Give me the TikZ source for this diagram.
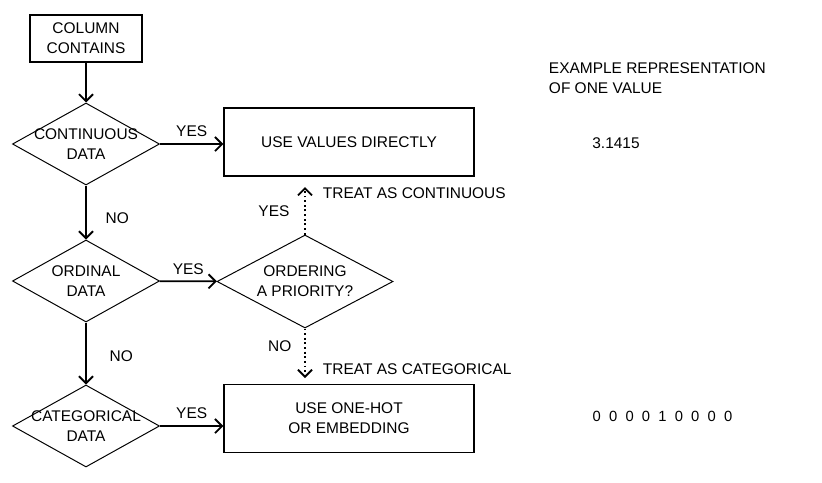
\documentclass[tikz,border=0pt]{standalone}
\usepackage{fontspec}
\setmainfont{Liberation Sans}
\usetikzlibrary{shapes.geometric,arrows.meta,positioning}

\begin{document}
\begin{tikzpicture}[x=0.025cm, y=-0.025cm,
    every node/.style={font=\fontsize{11}{14}\selectfont, align=center},
    box/.style={draw, line width=0.9pt, inner sep=0pt},
    decision/.style={draw, diamond, aspect=1.8, line width=0.7pt, inner sep=-3pt,
        minimum width=3.675cm, minimum height=2.05cm},
    flow/.style={line width=1.3pt, -{Straight Barb[length=5pt,width=10pt]}},
    hint/.style={flow, dotted}]
    \useasboundingbox (0,0) rectangle (822,482);

    % Draw Decision Chain
    \node[box, minimum width=2.8cm, minimum height=1.175cm] (column) at (86,38.5) {COLUMN\\CONTAINS};
    \node[decision] (continuous) at (86,144) {CONTINUOUS\\DATA};
    \node[decision] (ordinal) at (86,281) {ORDINAL\\DATA};
    \node[decision] (categorical) at (86,426) {CATEGORICAL\\DATA};

    % Outcomes
    \node[box, minimum width=6.25cm, minimum height=1.7cm] (direct) at (349,142) {USE VALUES DIRECTLY};
    \node[box, minimum width=6.25cm, minimum height=1.7cm] (onehot) at (349,418.5) {USE ONE-HOT\\OR EMBEDDING};
    \node[decision, minimum width=4.4cm, minimum height=2.325cm] (ordering) at (305,281.5) {ORDERING\\A PRIORITY?};

    % Connectors
    \draw[flow] (column) -- (continuous);
    \draw[flow] (continuous.east) -- node[midway, above=1pt] {YES} (continuous.east -| direct.west);
    \draw[flow] (continuous) -- node[pos=0.6, right=0.35cm] {NO} (ordinal);
    \draw[flow] (ordinal) -- node[midway, above=1pt] {YES} (ordering);
    \draw[flow] (ordinal) -- node[pos=0.55, right=0.45cm] {NO} (categorical);
    \draw[flow] (categorical.east) -- node[midway, above=1pt] {YES} (categorical.east -| onehot.west);

    % Ordering Hints (dotted)
    \coordinate (upEnd) at (305,187);
    \coordinate (downEnd) at (305,378);
    \draw[hint] (ordering) -- node[midway, left=0.25cm] {YES} (upEnd);
    \draw[hint] (ordering) -- node[pos=0.35, left=0.2cm] {NO} (downEnd);
    \node[anchor=west] (asCont) at (318,193) {TREAT AS CONTINUOUS};
    \node[anchor=west] (asCat) at (318,369) {TREAT AS CATEGORICAL};

    % Example Column
    \node[anchor=west, align=left] (exampleHead) at (544,78) {EXAMPLE REPRESENTATION\\OF ONE VALUE};
    \node (exampleCont) at (616,143) {3.1415};
    \node[font=\fontsize{10.5}{14}\selectfont] (exampleCat) at (662.5,416) {0~~0~~0~~0~~1~~0~~0~~0~~0};
\end{tikzpicture}
\end{document}
